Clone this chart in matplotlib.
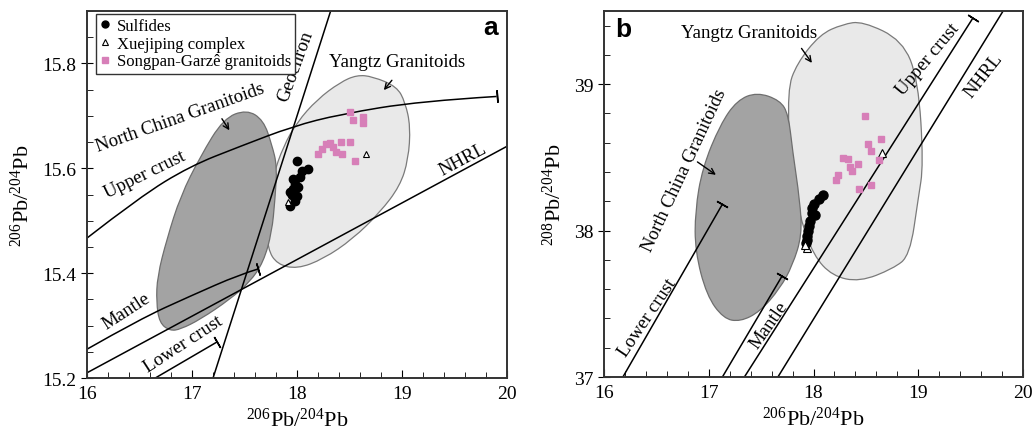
import matplotlib
matplotlib.use('Agg')
import matplotlib.pyplot as plt
from matplotlib.path import Path
from matplotlib.patches import PathPatch
from matplotlib.lines import Line2D
import numpy as np

plt.rcParams['font.family'] = 'Liberation Serif'
plt.rcParams['mathtext.fontset'] = 'custom'
plt.rcParams['mathtext.rm'] = 'Liberation Serif'
plt.rcParams['mathtext.it'] = 'Liberation Serif:italic'

# ---------- panel a data (206Pb/204Pb vs 207Pb/204Pb) ----------
a_sulf_x = [18.00, 18.05, 18.10, 18.03, 17.96, 17.98, 18.01, 17.96, 17.93, 18.00, 17.98, 17.93, 17.95]
a_sulf_y = [15.613, 15.594, 15.598, 15.583, 15.579, 15.570, 15.564, 15.560, 15.554, 15.547, 15.537, 15.528, 15.549]
a_xue_x = [18.66, 17.91]
a_xue_y = [15.627, 15.535]
a_song_x = [18.50, 18.53, 18.63, 18.63, 18.20, 18.24, 18.28, 18.31, 18.34, 18.37, 18.42, 18.43, 18.50, 18.55]
a_song_y = [15.707, 15.693, 15.697, 15.686, 15.627, 15.636, 15.646, 15.648, 15.640, 15.632, 15.650, 15.627, 15.651, 15.613]

a_yangtz = [(18.72, 15.775), (18.95, 15.756), (19.03, 15.726), (19.08, 15.680), (19.06, 15.617),
            (18.98, 15.566), (18.79, 15.516), (18.53, 15.465), (18.25, 15.427), (18.00, 15.408),
            (17.81, 15.417), (17.72, 15.446), (17.71, 15.503), (17.77, 15.585), (17.87, 15.642),
            (18.00, 15.688), (18.19, 15.731), (18.41, 15.764), (18.57, 15.778)]
a_nchina = [(17.52, 15.712), (17.68, 15.692), (17.76, 15.645), (17.81, 15.604), (17.79, 15.541),
            (17.76, 15.478), (17.68, 15.421), (17.55, 15.383), (17.36, 15.350), (17.08, 15.312),
            (16.89, 15.293), (16.79, 15.290), (16.69, 15.305), (16.66, 15.345), (16.67, 15.394),
            (16.76, 15.465), (16.89, 15.547), (17.08, 15.623), (17.30, 15.695)]

a_upper_x = [16.0, 16.50, 16.98, 17.46, 17.96, 18.41, 19.17, 19.90]
a_upper_y = [15.467, 15.545, 15.604, 15.642, 15.680, 15.703, 15.728, 15.737]
a_mantle_x = [16.0, 16.50, 16.98, 17.46, 17.63]
a_mantle_y = [15.255, 15.312, 15.356, 15.398, 15.408]
a_lower_x = [16.65, 17.24]
a_lower_y = [15.200, 15.269]
a_nhrl_x = [16.0, 20.0]
a_nhrl_y = [15.210, 15.642]
a_geo_x = [17.20, 18.32]
a_geo_y = [15.200, 15.900]

# ---------- panel b data (206Pb/204Pb vs 208Pb/204Pb) ----------
b_sulf_x = [18.09, 18.05, 18.00, 17.99, 18.01, 17.99, 17.97, 17.96, 17.95, 17.94, 17.94, 17.93]
b_sulf_y = [38.244, 38.216, 38.182, 38.155, 38.107, 38.120, 38.065, 38.031, 37.997, 37.962, 37.935, 37.914]
b_xue_x = [18.65, 17.94, 17.92]
b_xue_y = [38.533, 37.880, 37.900]
b_song_x = [18.49, 18.64, 18.52, 18.55, 18.63, 18.28, 18.33, 18.42, 18.35, 18.37, 18.23, 18.21, 18.43, 18.55]
b_song_y = [38.78, 38.629, 38.594, 38.546, 38.485, 38.498, 38.491, 38.457, 38.436, 38.409, 38.381, 38.347, 38.285, 38.313]

b_yangtz = [(18.47, 39.43), (18.85, 39.30), (19.00, 39.03), (19.05, 38.45), (19.00, 38.22),
            (18.92, 37.83), (18.76, 37.74), (18.44, 37.65), (18.18, 37.69), (18.00, 37.83),
            (17.87, 38.09), (17.78, 38.45), (17.75, 38.96), (17.84, 39.14), (18.06, 39.34),
            (18.28, 39.41)]
b_nchina = [(17.46, 38.945), (17.68, 38.890), (17.76, 38.794), (17.80, 38.546), (17.87, 38.203),
            (17.89, 37.969), (17.80, 37.763), (17.68, 37.605), (17.49, 37.447), (17.30, 37.378),
            (17.14, 37.399), (16.98, 37.557), (16.87, 37.859), (16.87, 38.134), (16.94, 38.430),
            (17.11, 38.725), (17.27, 38.890)]

b_lower_x = [16.18, 17.13]
b_lower_y = [37.0, 38.18]
b_mantle_x = [17.13, 17.70]
b_mantle_y = [37.0, 37.69]
b_upper_x = [17.34, 19.52]
b_upper_y = [37.0, 39.45]
b_nhrl_x = [17.66, 19.81]
b_nhrl_y = [37.0, 39.5]

pink = '#d77fb8'
dark_fill = '#a3a3a3'
light_fill = '#e9e9e9'
lw = 1.1


def smooth_closed(pts):
    p = np.array(pts)
    n = len(p)
    mids = (p + np.roll(p, -1, axis=0)) / 2
    verts = [mids[-1]]
    codes = [Path.MOVETO]
    for i in range(n):
        verts += [p[i], mids[i]]
        codes += [Path.CURVE3, Path.CURVE3]
    verts.append(mids[-1])
    codes.append(Path.CLOSEPOLY)
    return Path(verts, codes)


def smooth_open(xs, ys):
    p = np.column_stack([xs, ys])
    verts = [p[0]]
    codes = [Path.MOVETO]
    for i in range(1, len(p) - 1):
        m = (p[i] + p[i + 1]) / 2 if i < len(p) - 2 else p[i + 1]
        verts += [p[i], m]
        codes += [Path.CURVE3, Path.CURVE3]
    if len(p) == 2:
        verts.append(p[1])
        codes.append(Path.LINETO)
    return Path(verts, codes)


def end_bar(ax, xs, ys):
    # perpendicular bar at the end of a line
    p0 = ax.transData.transform((xs[-2], ys[-2]))
    p1 = ax.transData.transform((xs[-1], ys[-1]))
    ang = np.degrees(np.arctan2(p1[1] - p0[1], p1[0] - p0[0]))
    ax.plot(xs[-1], ys[-1], marker=(2, 2, ang), ms=9, mew=lw, color='black', zorder=4)


def style_axes(ax):
    for s in ax.spines.values():
        s.set_linewidth(1.4)
        s.set_color('#333333')
    ax.tick_params(axis='x', which='both', direction='in', labelsize=14, pad=5)
    ax.tick_params(axis='y', which='major', direction='inout', length=8, labelsize=14)
    ax.tick_params(axis='y', which='minor', direction='in', length=4)
    ax.tick_params(axis='x', which='major', length=6)
    ax.tick_params(axis='x', which='minor', length=4)
    ax.minorticks_on()


fig = plt.figure(figsize=(10.35, 4.35), dpi=100)
axa = fig.add_axes([0.0841, 0.1287, 0.4058, 0.8437])
axb = fig.add_axes([0.5836, 0.131, 0.4048, 0.8414])

# ---------------- panel a ----------------
axa.set_xlim(16, 20)
axa.set_ylim(15.2, 15.9)
axa.set_xticks([16, 17, 18, 19, 20])
axa.set_xticks(np.arange(16, 20, 0.5), minor=True)
axa.set_yticks([15.2, 15.4, 15.6, 15.8])
axa.set_yticks([15.3, 15.5, 15.7], minor=True)
axa.set_yticklabels(['15.2', '15.4', '15.6', '15.8'])
style_axes(axa)

axa.add_patch(PathPatch(smooth_closed(a_yangtz), facecolor=light_fill, edgecolor='#7a7a7a', lw=0.9, zorder=1))
axa.add_patch(PathPatch(smooth_closed(a_nchina), facecolor=dark_fill, edgecolor='#6e6e6e', lw=0.9, zorder=1.5))

axa.add_patch(PathPatch(smooth_open(a_upper_x, a_upper_y), fill=False, edgecolor='black', lw=lw, zorder=2))
axa.add_patch(PathPatch(smooth_open(a_mantle_x, a_mantle_y), fill=False, edgecolor='black', lw=lw, zorder=2))
axa.plot(a_lower_x, a_lower_y, color='black', lw=lw, zorder=2)
axa.plot(a_nhrl_x, a_nhrl_y, color='black', lw=lw, zorder=2)
axa.plot(a_geo_x, a_geo_y, color='black', lw=lw, zorder=2)

axa.plot(a_sulf_x, a_sulf_y, 'o', color='black', ms=6, zorder=3)
axa.plot(a_xue_x, a_xue_y, '^', mfc='white', mec='black', mew=0.8, ms=5, zorder=3)
axa.plot(a_song_x, a_song_y, 's', color=pink, ms=4.5, zorder=3)

end_bar(axa, a_upper_x, a_upper_y)
end_bar(axa, a_mantle_x, a_mantle_y)
end_bar(axa, a_lower_x, a_lower_y)

axa.text(17.99, 15.796, 'Geochron', rotation=70, fontsize=13.5, ha='center', va='center', rotation_mode='anchor')
axa.text(18.95, 15.804, 'Yangtz Granitoids', fontsize=13.5, ha='center', va='center')
axa.annotate('', xy=(18.81, 15.745), xytext=(18.92, 15.772),
             arrowprops=dict(arrowstyle='->', color='black', lw=1.0))
axa.text(16.89, 15.697, 'North China Granitoids', rotation=19.5, fontsize=13.5, ha='center', va='center', rotation_mode='anchor')
axa.annotate('', xy=(17.37, 15.668), xytext=(17.27, 15.699),
             arrowprops=dict(arrowstyle='->', color='black', lw=1.0))
axa.text(16.55, 15.589, 'Upper crust', rotation=26, fontsize=13.5, ha='center', va='center', rotation_mode='anchor')
axa.text(19.58, 15.617, 'NHRL', rotation=28, fontsize=13.5, ha='center', va='center', rotation_mode='anchor')
axa.text(16.37, 15.328, 'Mantle', rotation=33, fontsize=13.5, ha='center', va='center', rotation_mode='anchor')
axa.text(16.92, 15.265, 'Lower crust', rotation=33, fontsize=13.5, ha='center', va='center', rotation_mode='anchor')
axa.text(0.96, 0.956, 'a', transform=axa.transAxes, fontsize=19, fontweight='bold',
         family='Liberation Sans', ha='center', va='center')

handles = [
    Line2D([], [], ls='', marker='o', color='black', ms=5),
    Line2D([], [], ls='', marker='^', mfc='white', mec='black', mew=0.8, ms=5),
    Line2D([], [], ls='', marker='s', color=pink, ms=4.5),
]
leg = axa.legend(handles, ['Sulfides', 'Xuejiping complex', 'Songpan-Garzê granitoids'],
                 loc='upper left', bbox_to_anchor=(0.021, 0.992), borderaxespad=0,
                 fontsize=12, handlelength=0.6, handletextpad=0.4, borderpad=0.25,
                 labelspacing=0.1, fancybox=False, framealpha=1, edgecolor='#333333')
leg.get_frame().set_linewidth(1.0)

axa.set_xlabel(r'$^{206}$Pb/$^{204}$Pb', fontsize=16, labelpad=4)
axa.set_ylabel(r'$^{206}$Pb/$^{204}$Pb', fontsize=16, labelpad=6)

# ---------------- panel b ----------------
axb.set_xlim(16, 20)
axb.set_ylim(37, 39.5)
axb.set_xticks([16, 17, 18, 19, 20])
axb.set_xticks(np.arange(16, 20, 0.5), minor=True)
axb.set_yticks([37, 38, 39])
axb.set_yticks([37.5, 38.5], minor=True)
style_axes(axb)

axb.add_patch(PathPatch(smooth_closed(b_yangtz), facecolor=light_fill, edgecolor='#7a7a7a', lw=0.9, zorder=1))
axb.add_patch(PathPatch(smooth_closed(b_nchina), facecolor=dark_fill, edgecolor='#6e6e6e', lw=0.9, zorder=1.5))

for xs, ys in [(b_lower_x, b_lower_y), (b_mantle_x, b_mantle_y), (b_upper_x, b_upper_y), (b_nhrl_x, b_nhrl_y)]:
    axb.plot(xs, ys, color='black', lw=lw, zorder=2)
end_bar(axb, b_lower_x, b_lower_y)
end_bar(axb, b_mantle_x, b_mantle_y)
end_bar(axb, b_upper_x, b_upper_y)

axb.plot(b_sulf_x, b_sulf_y, 'o', color='black', ms=6.5, zorder=3)
axb.plot(b_xue_x, b_xue_y, '^', mfc='white', mec='black', mew=0.8, ms=6, zorder=3)
axb.plot(b_song_x, b_song_y, 's', color=pink, ms=5, zorder=3)

axb.text(17.38, 39.35, 'Yangtz Granitoids', fontsize=13.5, ha='center', va='center')
axb.annotate('', xy=(18.0, 39.13), xytext=(17.87, 39.26),
             arrowprops=dict(arrowstyle='->', color='black', lw=1.0))
axb.text(16.77, 38.416, 'North China Granitoids', rotation=65, fontsize=13.5, ha='center', va='center', rotation_mode='anchor')
axb.annotate('', xy=(17.09, 38.37), xytext=(16.87, 38.48),
             arrowprops=dict(arrowstyle='->', color='black', lw=1.0))
axb.text(16.41, 37.412, 'Lower crust', rotation=56, fontsize=13.5, ha='center', va='center', rotation_mode='anchor')
axb.text(17.575, 37.357, 'Mantle', rotation=55, fontsize=13.5, ha='center', va='center', rotation_mode='anchor')
axb.text(19.09, 39.172, 'Upper crust', rotation=50, fontsize=13.5, ha='center', va='center', rotation_mode='anchor')
axb.text(19.62, 39.062, 'NHRL', rotation=52, fontsize=13.5, ha='center', va='center', rotation_mode='anchor')
axb.text(0.045, 0.951, 'b', transform=axb.transAxes, fontsize=19, fontweight='bold',
         family='Liberation Sans', ha='center', va='center')

axb.set_xlabel(r'$^{206}$Pb/$^{204}$Pb', fontsize=16, labelpad=4)
axb.set_ylabel(r'$^{208}$Pb/$^{204}$Pb', fontsize=16, labelpad=6)

plt.savefig('out.png', dpi=100)
